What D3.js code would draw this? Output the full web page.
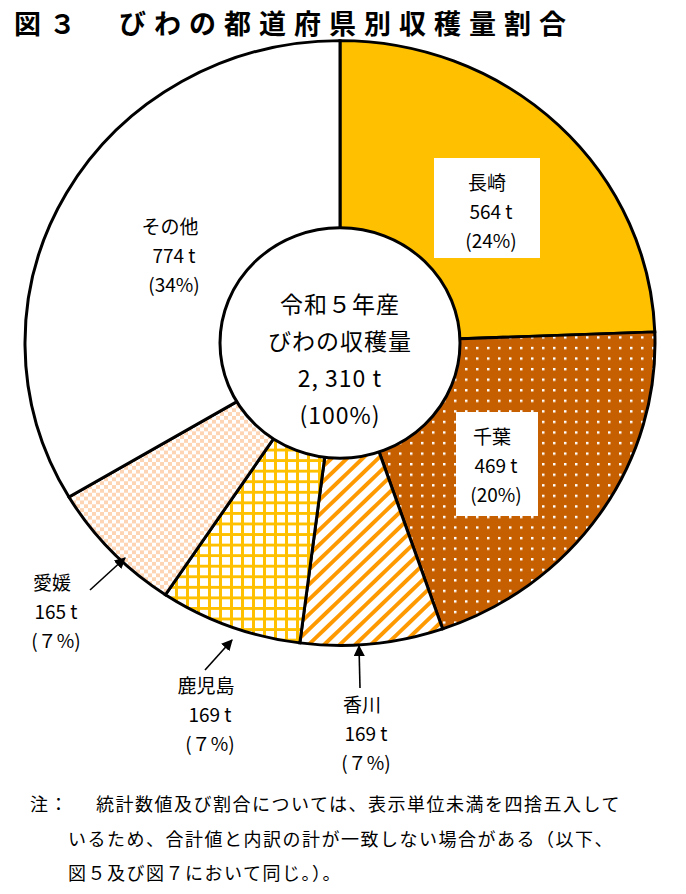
<!DOCTYPE html><html><head><meta charset="utf-8"><script src="https://cdn.jsdelivr.net/npm/d3@7"></script>
<style>body{margin:0;background:#fff}text{font-family:"Noto Sans CJK JP","Noto Sans CJK SC",serif}</style></head><body>
<svg id="c" width="686" height="894"></svg>
<script>
const names=["長崎","千葉","香川","鹿児島","愛媛","その他"];
const values=[564,469,169,169,165,774];
const pcts=["(24%)","(20%)","(７%)","(７%)","(７%)","(34%)"];
const fills=["#ffc000","url(#dots)","url(#stripe)","url(#grid)","url(#check)","#ffffff"];
const svg=d3.select("#c");
const defs=svg.append("defs");
let p=defs.append("pattern").attr("id","dots").attr("patternUnits","userSpaceOnUse").attr("width",11).attr("height",11);
p.append("rect").attr("width",11).attr("height",11).attr("fill","#c65f00");
p.append("rect").attr("x",4).attr("y",4).attr("width",2.5).attr("height",2.5).attr("fill","#fff");
p=defs.append("pattern").attr("id","stripe").attr("patternUnits","userSpaceOnUse").attr("width",11).attr("height",11).attr("patternTransform","rotate(45)");
p.append("rect").attr("width",11).attr("height",11).attr("fill","#fff");
p.append("rect").attr("width",4).attr("height",11).attr("fill","#ff9900");
p=defs.append("pattern").attr("id","grid").attr("patternUnits","userSpaceOnUse").attr("width",11).attr("height",11);
p.append("rect").attr("width",11).attr("height",11).attr("fill","#fff");
p.append("rect").attr("width",3).attr("height",11).attr("fill","#ffc000");
p.append("rect").attr("width",11).attr("height",3).attr("fill","#ffc000");
p=defs.append("pattern").attr("id","check").attr("patternUnits","userSpaceOnUse").attr("width",8).attr("height",8);
p.append("rect").attr("width",8).attr("height",8).attr("fill","#fff");
p.append("rect").attr("width",4).attr("height",4).attr("fill","#fdd5b4");
p.append("rect").attr("x",4).attr("y",4).attr("width",4).attr("height",4).attr("fill","#fdd5b4");
defs.append("marker").attr("id","ar").attr("viewBox","0 0 10 10").attr("refX",9).attr("refY",5).attr("markerWidth",7).attr("markerHeight",7).attr("orient","auto")
 .append("path").attr("d","M0,0L10,5L0,10z").attr("fill","#000");

svg.append("text").attr("x",14).attr("y",34).attr("font-size",27).attr("font-weight","bold").attr("letter-spacing",8).text("図３　びわの都道府県別収穫量割合");

const cx=340,cy=343,R=315,r0=120;
const g=svg.append("g").attr("transform",`translate(${cx},${cy}) scale(1,0.96)`);
const arcs=d3.pie().sort(null)(values);
const arc=d3.arc().innerRadius(0).outerRadius(R);
g.selectAll("path").data(arcs).join("path").attr("d",arc).attr("fill",(d,i)=>fills[i]).attr("stroke","#000").attr("stroke-width",3);
g.append("circle").attr("r",r0).attr("fill","#fff").attr("stroke","#000").attr("stroke-width",3);
const ct=["令和５年産","びわの収穫量","2, 310 t","(100%)"];
ct.forEach((t,i)=>svg.append("text").attr("x",cx).attr("y",cy-30+i*37).attr("text-anchor","middle").attr("font-size",23).attr("letter-spacing",1).text(t));

const lab=[{x:487,y:190,box:[434,158,106,100]},{x:492,y:444,box:[456,412,82,104]},
 {x:362,y:712},{x:206,y:693},{x:52,y:590},{x:170,y:234}];
const fmt=v=>v+" t";
arcs.forEach((d,i)=>{const L=lab[i];
 if(L.box)svg.append("rect").attr("x",L.box[0]).attr("y",L.box[1]).attr("width",L.box[2]).attr("height",L.box[3]).attr("fill","#fff");
 [names[i],fmt(values[i]),pcts[i]].forEach((t,k)=>svg.append("text").attr("x",L.x+(k==0?0:4)).attr("y",L.y+k*29).attr("text-anchor","middle").attr("font-size",19).text(t));
});
[[90,590,125,558],[205,670,232,640],[360,688,359,646]].forEach(a=>svg.append("line").attr("x1",a[0]).attr("y1",a[1]).attr("x2",a[2]).attr("y2",a[3]).attr("stroke","#000").attr("stroke-width",1.6).attr("marker-end","url(#ar)"));
const notes=[["注：",30,811],["統計数値及び割合については、表示単位未満を四捨五入して",96,811],["いるため、合計値と内訳の計が一致しない場合がある（以下、",68,846],["図５及び図７において同じ。）。",68,880]];
notes.forEach(n=>svg.append("text").attr("x",n[1]).attr("y",n[2]).attr("font-size",18).attr("letter-spacing",1.5).text(n[0]));
</script></body></html>
